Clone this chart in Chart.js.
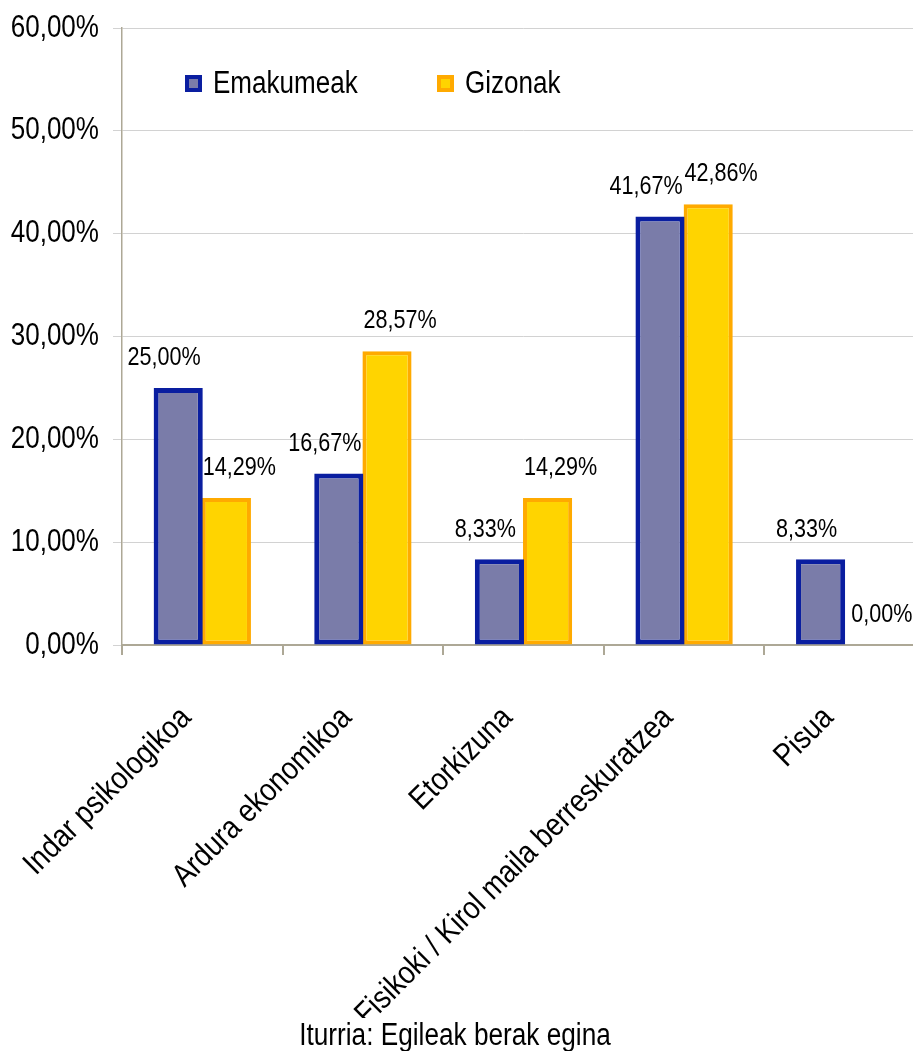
<!DOCTYPE html>
<html>
<head>
<meta charset="utf-8">
<script src="https://cdn.jsdelivr.net/npm/chart.js@4.4.0/dist/chart.umd.min.js"></script>
<style>
  html, body { margin: 0; padding: 0; background: #fff; overflow: hidden; }
  #wrap { width: 925px; height: 1051px; position: relative; }
</style>
</head>
<body>
<div id="wrap"><canvas id="chart"></canvas></div>
<script>
const categories = ['Indar psikologikoa', 'Ardura ekonomikoa', 'Etorkizuna', 'Fisikoki / Kirol maila berreskuratzea', 'Pisua'];
const emakumeak = [25.00, 16.67, 8.33, 41.67, 8.33];
const gizonak = [14.29, 28.57, 14.29, 42.86, 0.00];
const yTicks = [0, 10, 20, 30, 40, 50, 60];
const sourceText = 'Iturria: Egileak berak egina';

// no Arial Narrow here, so squeeze Liberation Sans horizontally
const FONT = "'Liberation Sans', Arial, sans-serif";
const fmt = (v) => v.toFixed(2).replace('.', ',') + '%';

function narrowText(ctx, text, x, y, opts) {
    ctx.save();
    ctx.translate(x, y);
    if (opts.rotate) ctx.rotate(opts.rotate);
    ctx.scale(opts.squeeze, 1);
    ctx.font = opts.size + 'px ' + FONT;
    ctx.textAlign = opts.align || 'left';
    ctx.textBaseline = opts.baseline || 'middle';
    ctx.fillStyle = '#000';
    ctx.fillText(text, 0, 0);
    ctx.restore();
}

// axis labels drawn by hand (narrow look)
const axisLabels = {
    id: 'axisLabels',
    afterDraw(chart) {
        const ctx = chart.ctx;
        const ys = chart.scales.y;
        const xs = chart.scales.x;
        ys.ticks.forEach(t => {
            narrowText(ctx, fmt(t.value), ys.right - 23, ys.getPixelForValue(t.value),
                { size: 31, squeeze: 0.84, align: 'right' });
        });
        categories.forEach((c, i) => {
            narrowText(ctx, c, xs.getPixelForValue(i) - 16, xs.top + 68,
                { size: 32, squeeze: 0.86, align: 'right', rotate: -Math.PI / 4 });
        });
    }
};

// value labels above each bar, nudged apart like the original
const labelShift = [-14, 13];
const valueLabels = {
    id: 'valueLabels',
    afterDatasetsDraw(chart) {
        chart.data.datasets.forEach((ds, i) => {
            chart.getDatasetMeta(i).data.forEach((bar, j) => {
                narrowText(chart.ctx, fmt(ds.data[j]), bar.x + labelShift[i], bar.y - 30,
                    { size: 26, squeeze: 0.83, align: 'center' });
            });
        });
    }
};

// legend drawn inside the plot, top left
const innerLegend = {
    id: 'innerLegend',
    afterDraw(chart) {
        const ctx = chart.ctx;
        const area = chart.chartArea;
        chart.data.datasets.forEach((ds, i) => {
            const x = area.left + 63 + i * 252;
            const y = area.top + 55;
            ctx.fillStyle = ds.borderColor;
            ctx.fillRect(x, y - 8, 17, 17);
            ctx.fillStyle = ds.backgroundColor;
            ctx.fillRect(x + 4, y - 4, 9, 9);
            narrowText(ctx, ds.label, x + 28, y + 1, { size: 31, squeeze: 0.84 });
        });
    }
};

// source line at the bottom, with white backing like the original
const sourceNote = {
    id: 'sourceNote',
    afterDraw(chart) {
        const ctx = chart.ctx;
        ctx.save();
        ctx.font = '31px ' + FONT;
        const w = ctx.measureText(sourceText).width * 0.845;
        ctx.restore();
        const cx = 455;
        ctx.fillStyle = '#fff';
        ctx.fillRect(cx - w / 2 - 2, 1018, w + 4, 33);
        narrowText(ctx, sourceText, cx, 1045,
            { size: 31, squeeze: 0.845, align: 'center', baseline: 'alphabetic' });
    }
};

new Chart(document.getElementById('chart'), {
    type: 'bar',
    data: {
        labels: categories,
        datasets: [
            {
                label: 'Emakumeak',
                data: emakumeak,
                backgroundColor: '#7A7CA9',
                borderColor: '#0A1EA0',
                borderWidth: 5,
                borderSkipped: false,
            },
            {
                label: 'Gizonak',
                data: gizonak,
                backgroundColor: '#FFD400',
                borderColor: '#FFAA00',
                borderWidth: 4,
                borderSkipped: false,
            },
        ],
    },
    options: {
        responsive: true,
        maintainAspectRatio: false,
        animation: false,
        layout: { padding: { top: 28, left: 0, right: 0, bottom: 0 } },
        datasets: { bar: { categoryPercentage: 0.6, barPercentage: 1.02 } },
        plugins: {
            legend: { display: false },
            title: { display: false },
            tooltip: { enabled: false },
        },
        scales: {
            x: {
                offset: true,
                grid: {
                    offset: true,
                    drawOnChartArea: false,
                    drawTicks: true,
                    tickLength: 10,
                    color: '#ADA896',
                    lineWidth: 2,
                },
                border: { color: '#ADA896', width: 2 },
                ticks: { display: false },
                afterFit(scale) { scale.height = 406; },
            },
            y: {
                min: 0,
                max: 60,
                afterBuildTicks(scale) { scale.ticks = yTicks.map(v => ({ value: v })); },
                grid: {
                    color: '#D2D2D2',
                    lineWidth: 1,
                    tickLength: 9,
                },
                border: { color: '#ADA896', width: 1.5 },
                ticks: { display: false },
                afterFit(scale) { scale.width = 122; },
            },
        },
    },
    plugins: [valueLabels, axisLabels, innerLegend, sourceNote],
});
</script>
</body>
</html>
